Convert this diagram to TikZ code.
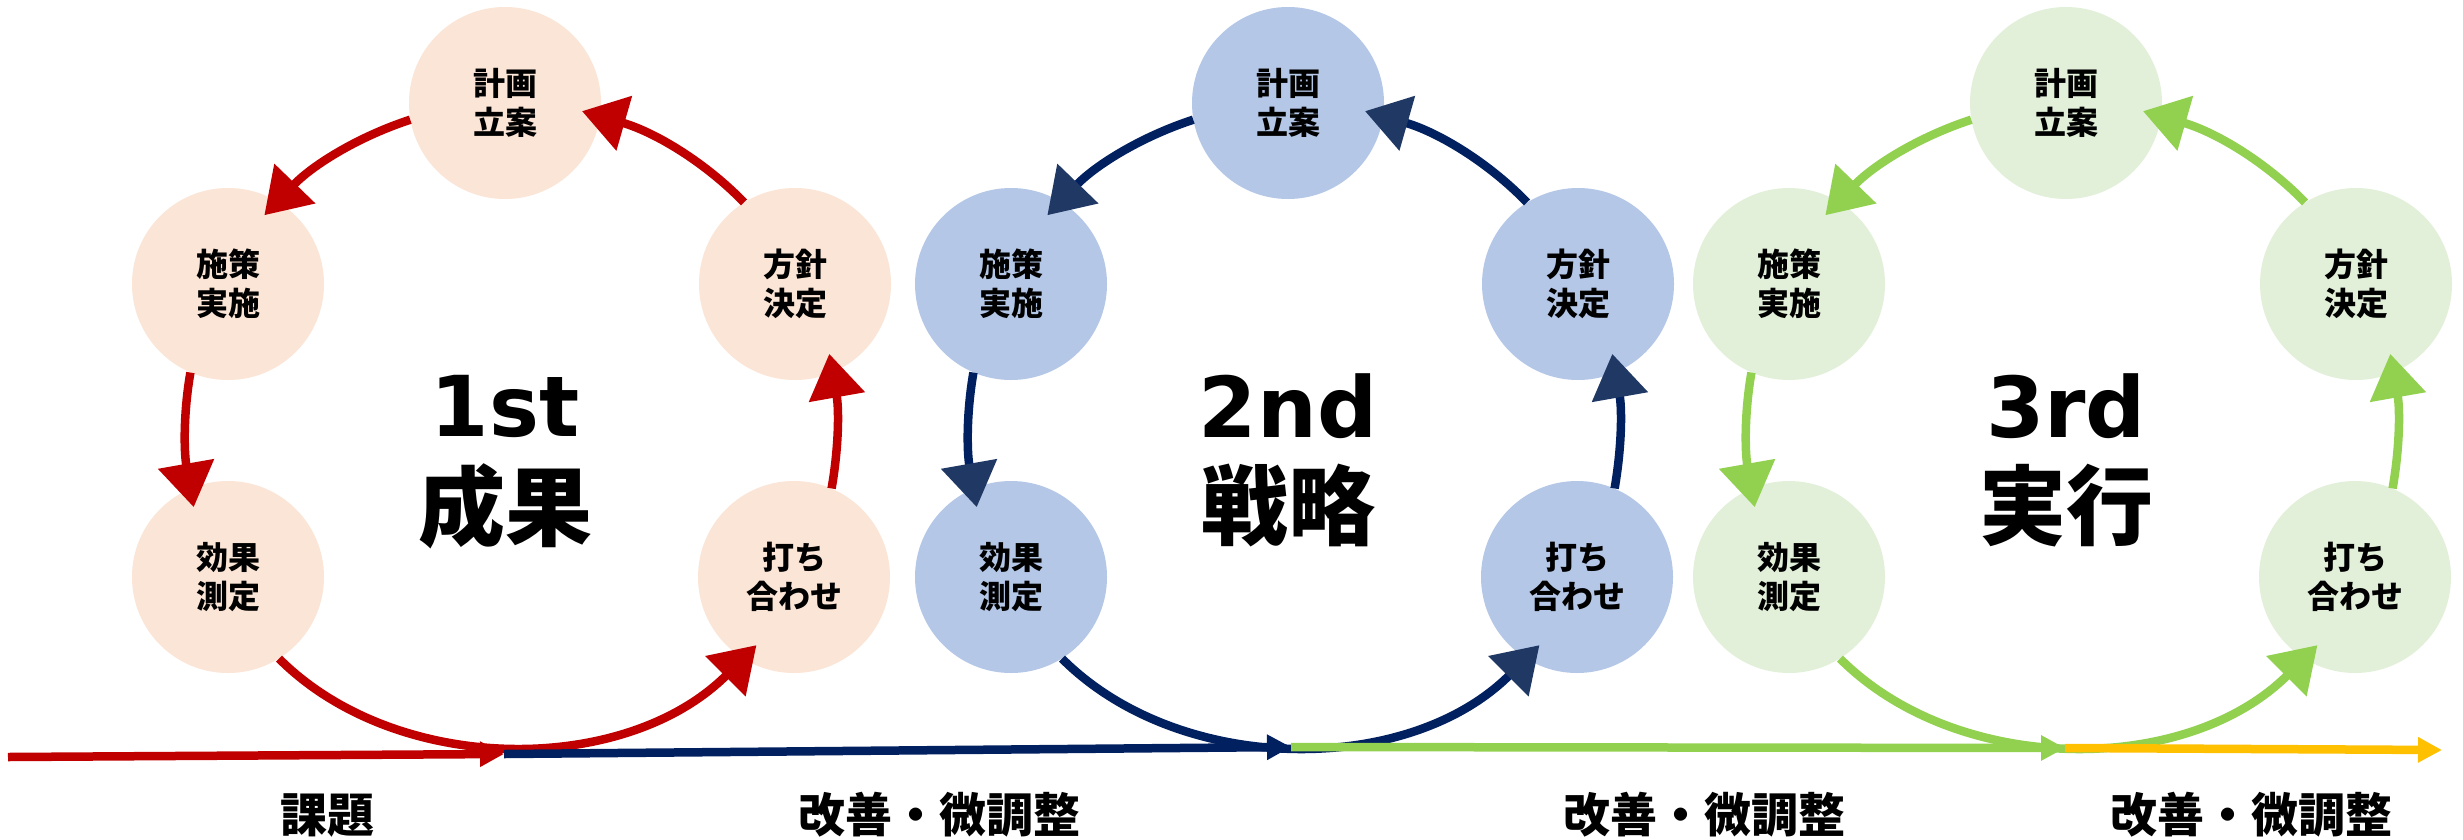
\documentclass[tikz,border=0pt]{standalone}
\usepackage{fontspec}
\usetikzlibrary{arrows.meta}
\newfontfamily\jp{Noto Sans CJK JP}
\newfontfamily\dv{DejaVu Sans}
\definecolor{redA}{HTML}{C00000}
\definecolor{fillA}{HTML}{FBE5D6}
\definecolor{navyB}{HTML}{002060}
\definecolor{headB}{HTML}{203864}
\definecolor{fillB}{HTML}{B4C7E7}
\definecolor{grnC}{HTML}{92D050}
\definecolor{fillC}{HTML}{E2F0D9}
\definecolor{orngD}{HTML}{FFC000}
\tikzset{
  stage/.style={circle, minimum size=192pt, inner sep=0pt, align=center, text=black,
    font=\jp\bfseries\fontsize{32}{39}\selectfont},
  cyc/.style={line width=8.5pt, -{Triangle[length=44pt,width=55pt,color=#1]}, shorten >=-19pt},
  flow/.style={line width=8.5pt, -{Triangle[length=24pt,width=24pt]}},
  numtitle/.style={font=\dv\bfseries\fontsize{84}{84}\selectfont, inner sep=0pt},
  jtitle/.style={font=\jp\bfseries\fontsize{87}{87}\selectfont, inner sep=0pt},
  blabel/.style={font=\jp\bfseries\fontsize{47}{47}\selectfont, inner sep=0pt},
}
% #1 prefix, #2 cx, #3 fill, #4 line colour, #5 head colour, #6 number, #7 word
\newcommand\drawcycle[7]{%
  \node[stage, fill=#3] (#1T)  at (#2, -103)     {計画\\立案};
  \node[stage, fill=#3] (#1L)  at (#2-277, -284) {施策\\実施};
  \node[stage, fill=#3] (#1R)  at (#2+290, -284) {方針\\決定};
  \node[stage, fill=#3] (#1LL) at (#2-277, -577) {効果\\測定};
  \node[stage, fill=#3] (#1RR) at (#2+289, -577) {打ち\\合わせ};
  \node[numtitle] (#1n) at (#2, -406) {#6};
  \node[jtitle]   (#1w) at (#2, -506) {#7};
  \draw[cyc=#5, draw=#4] (#1T.190)  to[out=198, in=46,  looseness=0.86] (#1L.59);
  \draw[cyc=#5, draw=#4] (#1R.122)  to[out=134, in=344, looseness=0.86] (#1T.352);
  \draw[cyc=#5, draw=#4] (#1L.247)  to[out=260, in=100, looseness=0.86] (#1LL.113);
  \draw[cyc=#5, draw=#4] (#1LL.302) to[out=315, in=225, looseness=0.92] (#1RR.238);
  \draw[cyc=#5, draw=#4] (#1RR.67)  to[out=80,  in=280, looseness=0.86] (#1R.293);
}
\begin{document}
\begin{tikzpicture}[x=1pt, y=1pt]
  \fill[white] (0,0) rectangle (2463,-839);
  \useasboundingbox (0,0) rectangle (2463,-839);
  \drawcycle{a}{505}{fillA}{redA}{redA}{1st}{成果}
  \drawcycle{b}{1288}{fillB}{navyB}{headB}{2nd}{戦略}
  \drawcycle{c}{2066}{fillC}{grnC}{grnC}{3rd}{実行}
  \coordinate (j0) at (8,-757);
  \coordinate (j1) at (504,-754);
  \coordinate (j2) at (1291,-747);
  \coordinate (j3) at (2065,-748);
  \coordinate (j4) at (2442,-750);
  \draw[flow, navyB] (j1) -- (j2);
  \draw[flow, grnC] (j2) -- (j3);
  \draw[flow, orngD] (j3) -- (j4);
  \draw[flow, redA] (j0) -- (j1);
  \node[blabel] (k0) at (327,-815) {課題};
  \node[blabel] (k1) at (939,-815) {改善・微調整};
  \node[blabel] (k2) at (1704,-815) {改善・微調整};
  \node[blabel] (k3) at (2251,-815) {改善・微調整};
\end{tikzpicture}
\end{document}
